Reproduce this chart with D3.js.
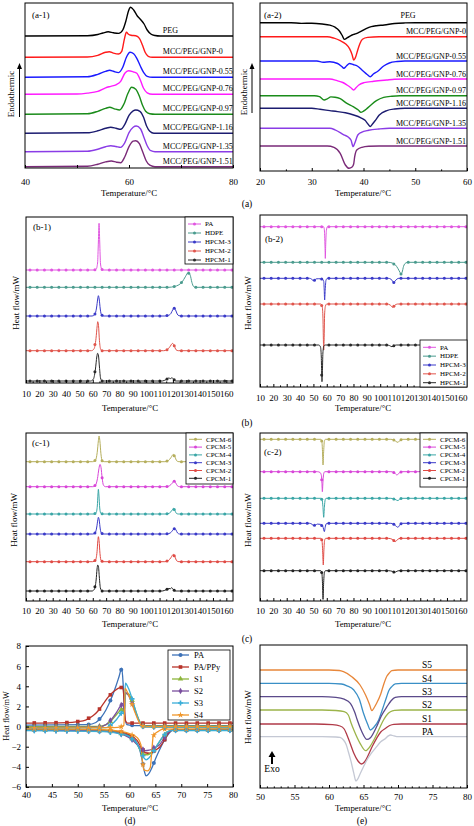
<!DOCTYPE html>
<html><head><meta charset="utf-8">
<script src="https://cdn.jsdelivr.net/npm/d3@7"></script>
<style>body{margin:0;background:#fff}svg{display:block}</style>
</head><body><svg id="c" width="474" height="826"></svg>
<script>
// ================= DATA =================
// (a-1) heating curves: [temperature, signal deviation]; shifts = vertical offsets (a.u.)
const a1Names = ["PEG","MCC/PEG/GNP-0","MCC/PEG/GNP-0.55","MCC/PEG/GNP-0.76","MCC/PEG/GNP-0.97","MCC/PEG/GNP-1.16","MCC/PEG/GNP-1.35","MCC/PEG/GNP-1.51"];
const a1Shifts = [132, 110.7, 90.7, 73.7, 53.7, 34.7, 16.3, 1.3];
const a1Curves = [
 [[40,0],[52,0.3],[54,1.5],[55,3],[56,4.2],[57,3.2],[58,2.6],[58.8,6],[59.4,15],[59.9,25],[60.3,28.7],[60.9,26],[61.6,20],[62.3,16],[62.9,12],[63.5,6],[64.2,2],[65,0.5],[66,0],[80,0]],
 [[40,0],[52,0.3],[54,2],[55.5,5],[56.2,5.6],[57,4.2],[58,3.3],[58.6,6],[59.1,18],[59.5,25],[59.9,23],[60.4,22],[61.3,21.5],[62,19],[62.6,12],[63.1,5],[63.7,1],[64.5,0],[80,0]],
 [[40,0],[52,0.5],[54,3],[55.5,6],[56.3,7],[57,6],[58,4.7],[58.8,10],[59.5,20],[60.2,25],[60.9,23.5],[61.5,19],[62.2,11],[62.8,5],[63.5,1],[64.5,0],[80,0]],
 [[40,0],[50,0.3],[52,1.2],[54,3],[55.5,6.5],[56.5,8],[57.5,9.5],[58.4,13],[59.2,21],[59.9,23.6],[60.8,22.5],[61.5,21],[62.2,14],[62.8,6],[63.5,1.5],[64.5,0],[80,0]],
 [[40,0],[52,0.5],[54,3],[55.5,6],[56.3,7],[57.2,5.5],[58.2,4.3],[59,10],[59.8,21],[60.5,27],[61.3,25],[62,18],[62.6,9],[63.2,3],[64,0.5],[65,0],[80,0]],
 [[40,0],[52,0.5],[54,2.5],[55.5,5],[56.5,6],[57.5,5],[58.4,4],[59.2,9],[60,18],[60.8,22.5],[61.3,23.3],[62.1,22],[62.8,16],[63.4,7],[64,2],[64.8,0],[80,0]],
 [[40,0],[52,0.5],[54,2.5],[55.5,5],[56.5,6],[57.5,5.2],[58.4,4.3],[59.2,9],[60,19],[60.8,24.5],[61.4,25.7],[62.2,23],[62.9,14],[63.5,6],[64.2,1],[65,0],[80,0]],
 [[40,0],[52,0.5],[54,2.5],[55.5,4.8],[56.6,5.7],[57.6,4.5],[58.4,4],[59.2,10],[60,20],[60.8,25.5],[61.3,26],[62,23],[62.7,14],[63.3,6],[64,1.5],[65,0],[80,0]]
];
// (a-2) cooling curves
const a2Shifts = [148.3, 134.3, 110, 92, 75.3, 62.7, 42.7, 25];
const a2Curves = [
 [[20,0],[26,0],[28,-0.7],[30,-0.5],[32,-1.3],[33.5,-2.5],[34.5,-4.5],[35.3,-8],[35.9,-13],[36.3,-16.7],[36.9,-15],[37.8,-12.3],[38.6,-11],[39.4,-9],[40.5,-6],[41.5,-4],[42.5,-3],[44,-2.3],[46,-0.8],[48,-0.2],[50,0],[60,0]],
 [[20,0],[33,0],[34.3,-1.5],[35.5,-4],[36.5,-7],[37.3,-12],[37.8,-18],[38.1,-23.3],[38.5,-20],[38.9,-13],[39.3,-7],[39.8,-2.5],[40.8,-0.7],[43,0],[60,0]],
 [[20,0],[31,0],[32.2,-1.3],[33.5,-0.8],[35,-2.5],[35.8,-5.5],[36.2,-7.3],[36.7,-5],[37.3,-2.5],[38,-3.5],[38.8,-5],[39.8,-9.5],[40.7,-13.5],[41.3,-15.7],[41.9,-13],[42.7,-10.5],[43.9,-5],[45,-2],[46.5,-0.5],[48,0],[60,0]],
 [[20,0],[33.5,0],[34.9,-1.7],[36,-3.5],[36.8,-6],[37.5,-8.5],[38.1,-11],[38.6,-8.5],[39.1,-6],[40.1,-3.7],[42,-2.3],[44.5,-1],[46,-0.3],[48,0],[60,0]],
 [[20,0],[30.5,0],[31.5,-1],[32.4,-4.3],[33,-3.2],[33.7,-1.2],[34.5,-1.5],[35.5,-3],[36.8,-7.7],[38,-11],[39,-14.3],[39.5,-16.7],[40,-15.5],[40.7,-12.7],[41.5,-9],[42.5,-5],[43.9,-1.7],[45.5,-0.5],[47,0],[60,0]],
 [[20,0],[30,0],[31.6,-1],[33.5,-2.3],[35,-3.3],[36.5,-4.5],[38.1,-6.7],[39.5,-9.5],[40.3,-12],[40.9,-16],[41.3,-18.3],[41.7,-16],[42.3,-12],[43,-7],[44.5,-2.3],[46,-0.7],[48,0],[60,0]],
 [[20,0],[33.5,0],[34.5,-1.5],[36.2,-6.5],[37.1,-9],[37.6,-12],[38,-18.3],[38.3,-15],[38.9,-6.7],[39.6,-4],[41,-2],[43,-0.7],[45,0],[60,0]],
 [[20,0],[33,0],[34.3,-1.3],[35.5,-7.3],[36.5,-19],[37.2,-22.3],[37.8,-21],[38.1,-18],[38.3,-10.7],[38.7,-4],[39.7,-1.3],[41,-0.3],[43,0],[60,0]]
];
// (b) HPCM series
const bNames = ["PA","HDPE","HPCM-3","HPCM-2","HPCM-1"];
const b1Shifts = [113, 95.7, 67, 32.3, 2];
const b1Curves = [
 [[10,0],[61,0],[62.5,0.8],[63.6,7],[64.2,28],[64.7,46.7],[65.2,28],[65.8,6],[66.8,0.5],[68,0],[165,0]],
 [[10,0],[117,0],[121,0.8],[124.5,2.5],[127,5.5],[129.3,10.5],[131.5,14.7],[133,12],[134.2,5],[135.5,0.8],[137,0],[165,0]],
 [[10,0],[59.5,0],[61.5,1.5],[62.8,8],[63.7,17],[64.2,20.3],[64.8,17],[65.6,7],[66.6,1],[68,0],[114,0],[116.5,0.6],[118.5,2.5],[120,6.5],[121,7.7],[122,6],[123.2,2],[124.5,0.3],[126,0],[165,0]],
 [[10,0],[59,0],[61,2],[62.4,12],[63.3,25],[63.7,29],[64.3,25],[65,10],[65.9,1.5],[67,0],[113,0],[115.5,0.8],[117.5,3.5],[119.8,7.3],[121,5],[122.3,1],[124,0],[165,0]],
 [[10,0],[58.5,0],[60.5,2],[62,12],[63,24],[63.6,27.7],[64.3,25],[65,14],[65.8,3],[67,0],[112,0],[115,1.5],[117,3],[118.2,2.4],[119.3,3.3],[120.7,1.5],[122,0],[165,0]]
];
const b2Shifts = [160.3, 124.7, 108.7, 83, 42];
const b2Curves = [
 [[10,0],[57.5,0],[58.1,-2],[58.5,-12],[58.8,-26],[58.9,-31.7],[59.2,-18],[59.7,-4],[60.5,0],[165,0]],
 [[10,0],[106,0],[109,-0.7],[111.3,-2.5],[113.2,-6],[114.8,-10],[115.6,-11.7],[116.4,-10],[117.5,-4],[119,-0.8],[121,0],[165,0]],
 [[10,0],[47,0],[48.7,-0.8],[49.7,-2.3],[50.8,-2],[52,-0.6],[54,-0.4],[56.5,-0.7],[57.7,-3],[58.1,-12],[58.4,-21.7],[58.8,-12],[59.4,-2],[60.5,0],[106,0],[108,-0.8],[109.3,-3],[110.1,-4.3],[111,-3],[112.5,-0.8],[114,0],[165,0]],
 [[10,0],[55.5,0],[56.5,-2],[57.1,-12],[57.5,-38],[57.7,-46],[58,-36],[58.4,-10],[59,-2],[60,0],[105,0],[107.5,-1],[109.3,-3.3],[111,-1.2],[113,0],[165,0]],
 [[10,0],[54,0],[55.3,-2],[55.9,-12],[56.2,-30],[56.4,-36.7],[56.7,-28],[57.1,-8],[57.8,-1],[59,0],[105,0],[107,-0.6],[108.8,-1.7],[110.5,-0.6],[112,0],[165,0]]
];
// (c) CPCM series
const cNames = ["CPCM-6","CPCM-5","CPCM-4","CPCM-3","CPCM-2","CPCM-1"];
const c1Shifts = [139.3, 114.3, 87, 67, 39.3, 10];
const c1Curves = [
 [[10,0],[60,0],[62,1.5],[63.3,9],[64.2,21],[64.7,25.7],[65.3,21],[66.1,8],[67,1],[68.5,0],[114,0],[116.5,1],[118.5,4],[120.3,7.3],[121.5,5],[122.8,1],[124.5,0],[165,0]],
 [[10,0],[60,0],[62,1.5],[63.5,8],[64.6,18],[65.4,22.3],[66.2,19],[67,9],[68,1.5],[69.5,0],[115,0],[117.5,1],[119.5,3.5],[120.8,5.7],[122,4],[123.3,1],[125,0],[165,0]],
 [[10,0],[61,0],[62.5,1.2],[63.4,8],[63.9,20],[64.2,24.7],[64.6,19],[65.2,6],[66,0.8],[67.5,0],[115,0],[117.5,1],[119.5,4],[120.3,5.7],[121.3,4],[122.5,0.8],[124,0],[165,0]],
 [[10,0],[60,0],[61.8,1.2],[63,7],[63.8,14.5],[64.2,16.7],[64.8,14],[65.6,5],[66.5,0.8],[68,0],[115,0],[118,1],[120,4],[121.3,5.7],[122.3,4],[123.5,1],[125,0],[165,0]],
 [[10,0],[60,0],[62,1.5],[63.2,10],[63.8,21],[64.2,25],[64.7,21],[65.4,8],[66.3,1],[67.5,0],[114,0],[116.5,1],[118.5,4],[120.3,7.3],[121.5,5],[122.8,1],[124.5,0],[165,0]],
 [[10,0],[59.5,0],[61.3,2],[62.5,11],[63.2,22],[63.7,26],[64.3,24],[64.9,14],[65.7,3],[67,0],[112,0],[115,1.3],[117,2.5],[118.2,2.3],[119.1,3.3],[120.3,1.5],[121.8,0],[165,0]]
];
const c2Shifts = [161.7, 129.3, 102.7, 77.7, 62.7, 30.3];
const c2Curves = [
 [[10,0],[55.5,0],[56.3,-2],[56.8,-12],[57.2,-25.7],[57.6,-14],[58.2,-2],[59,0],[108,0],[110.5,-0.8],[112.5,-2.7],[113.3,-3],[114.5,-1.5],[116,0],[165,0]],
 [[10,0],[53,0],[55,-0.8],[56,-4],[56.4,-12],[56.7,-20],[57.1,-11],[57.7,-2],[58.5,0],[108,0],[110.5,-1],[112.6,-3.3],[114,-1.5],[116,0],[165,0]],
 [[10,0],[55.5,0],[56.5,-1.5],[57.1,-8],[57.7,-19],[58.2,-9],[58.8,-1.5],[59.5,0],[108,0],[111,-1],[113.3,-2.3],[114.5,-1],[116,0],[165,0]],
 [[10,0],[47,0],[49,-1],[50.2,-2.3],[51.5,-1.8],[53,-0.8],[55,-1],[57,-3],[58.2,-8.3],[58.8,-4],[59.6,-0.5],[61,0],[108,0],[110.5,-1.2],[112.3,-3.3],[113.3,-4],[114.5,-2],[116,0],[165,0]],
 [[10,0],[55.5,0],[56.4,-2],[56.9,-12],[57.4,-26.7],[57.8,-13],[58.4,-2],[59.2,0],[106,0],[109,-1],[111.3,-3.3],[113,-1.2],[115,0],[165,0]],
 [[10,0],[55.5,0],[56.3,-2],[56.8,-13],[57.2,-28.7],[57.6,-14],[58.2,-2],[59,0],[106,0],[109,-0.6],[110.8,-1.7],[112.5,-0.6],[114,0],[165,0]]
];
// (d) heat flow (mW): cooling (exo, up) and heating (endo, down) branches
const dNames = ["PA","PA/PPy","S1","S2","S3","S4"];
const dCool = [
 [[40,0.15],[52,0.2],[53.5,0.4],[54.5,0.9],[55.5,1.7],[56.5,2.8],[57.3,3.9],[58,5],[58.5,5.8],[58.8,4],[59.1,1],[59.5,0.2],[61,0.1],[80,0.1]],
 [[40,0.35],[48,0.4],[50,0.5],[51.5,0.65],[53,1.1],[54,1.6],[55,2.3],[56,3],[57,3.5],[58,3.85],[58.7,3.9],[59,2.2],[59.2,0.6],[59.6,0.35],[80,0.35]],
 [[40,0],[54,0.02],[55.5,0.2],[56.5,0.6],[57.5,1.2],[58.2,1.6],[58.7,1.8],[59,1.3],[59.2,3.2],[59.7,3.3],[60.5,2.6],[61.3,1.4],[62,0.5],[62.6,0.1],[64,0.05],[80,0.05]],
 [[40,-0.1],[54,-0.05],[55.5,0.2],[56.5,0.7],[57.5,1.4],[58.2,2],[58.7,2.3],[59,1.5],[59.2,3.4],[59.8,3.1],[60.6,2.2],[61.4,1.1],[62.1,0.3],[62.7,0],[80,-0.05]],
 [[40,-0.15],[55.5,-0.1],[56.5,0.2],[57.5,0.7],[58.2,1.2],[58.7,1.5],[59,1.2],[59.2,4.3],[59.8,3.8],[60.6,2.6],[61.4,1.2],[62.1,0.3],[62.7,-0.05],[80,-0.1]],
 [[40,-0.15],[57,-0.1],[58.5,0],[58.9,0.1],[59.05,2],[59.15,3.8],[59.6,3.4],[60.3,2.5],[61,1.5],[61.7,0.6],[62.3,0.1],[63,0],[80,0]]
];
const dHeat = [
 [[40,-0.25],[50,-0.3],[55,-0.4],[57,-0.5],[58.5,-0.65],[60,-0.9],[61,-1.3],[61.8,-2],[62.4,-3.2],[62.9,-4.5],[63.2,-4.9],[63.7,-4.7],[64.4,-4],[65.2,-3],[66,-2.1],[66.8,-1.3],[67.6,-0.7],[68.3,-0.35],[69,-0.3],[80,-0.3]],
 [[40,-0.3],[55,-0.4],[58,-0.5],[60,-0.8],[61.5,-1.4],[62.3,-2.1],[63,-2.6],[64,-2.65],[65,-2.35],[65.9,-2],[66.8,-1.3],[67.6,-0.6],[68.5,-0.35],[80,-0.35]],
 [[40,-0.3],[55,-0.4],[57,-0.5],[59,-0.8],[60.5,-1.2],[61.5,-1.8],[62.2,-2.5],[62.8,-2.8],[63.5,-2.8],[64.4,-2.5],[65.3,-1.9],[66.2,-1.2],[67.2,-0.6],[68.3,-0.3],[80,-0.3]],
 [[40,-0.35],[55,-0.45],[57,-0.55],[59,-0.85],[60.5,-1.3],[61.5,-1.8],[62.3,-2.2],[63,-2.4],[63.8,-2.35],[64.8,-2.1],[65.8,-1.8],[66.5,-1.3],[67.3,-0.7],[68.3,-0.35],[80,-0.35]],
 [[40,-0.4],[55,-0.5],[58,-0.7],[60,-1],[61.3,-1.6],[62.2,-2.5],[62.8,-3.1],[63.2,-3.3],[63.8,-3.1],[64.6,-2.5],[65.4,-1.8],[66.3,-1.1],[67.3,-0.5],[68.3,-0.4],[80,-0.4]],
 [[40,-0.2],[55,-0.3],[58,-0.45],[60,-0.7],[61.5,-1.1],[62.2,-1.8],[62.5,-3.5],[62.8,-4.3],[63.5,-4.4],[64,-4.1],[64.3,-2.5],[64.6,-0.9],[65.5,-0.5],[66.5,-0.25],[80,-0.2]]
];
const dYTicks = [8,6,4,2,0,-2,-4,-6];
const dXTicks = [40,45,50,55,60,65,70,75,80];
// (e) cooling curves
const eNames = ["S5","S4","S3","S2","S1","PA"];
const eShifts = [118, 104.7, 91.3, 78, 64, 51.3];
const eCurves = [
 [[50,0],[60,0],[61.5,-0.5],[62.1,-1.7],[63.3,-6.7],[64.5,-15],[65.3,-25],[65.9,-35],[66.2,-40.7],[66.6,-37],[66.9,-33.3],[67.5,-24],[67.9,-15],[68.4,-6],[68.7,-3.3],[69.1,-0.7],[70,0],[80,0]],
 [[50,0],[60,0],[61.8,-0.7],[62.6,-2.5],[63.6,-6.7],[64.4,-16],[65,-30],[65.6,-41],[66,-46.7],[66.5,-44],[67.2,-36.7],[67.7,-27],[68.2,-16.7],[68.7,-7],[69.1,-3.3],[69.6,-0.5],[70.5,0],[80,0]],
 [[50,0],[59,0],[61,-0.7],[62.2,-2.5],[63.1,-6.7],[63.7,-15],[64.1,-23.3],[64.7,-34],[65.5,-42.7],[66,-41],[66.9,-30],[67.6,-19],[68.4,-10],[69,-4],[69.6,-0.7],[70.5,0],[80,0]],
 [[50,0],[59,0],[61,-0.5],[62.2,-1.7],[62.8,-5],[63.2,-13],[63.6,-20],[64.5,-33.3],[65.3,-40.7],[65.9,-37],[66.5,-30],[67.2,-20],[67.9,-10],[68.5,-4],[68.9,-1.7],[69.5,-0.3],[70.5,0],[80,0]],
 [[50,0],[58,0],[60.5,-0.7],[61.6,-2],[62.2,-5],[62.6,-11],[63.1,-20],[63.6,-29.3],[64.2,-37],[64.7,-40],[65.2,-37.5],[65.7,-31],[66.3,-22],[66.9,-14.3],[67.5,-8],[68.2,-4.3],[68.8,-1.5],[69.4,-0.3],[70.5,0],[80,0]],
 [[50,0],[59,0],[61,-0.3],[61.6,-0.7],[62.1,-3.3],[62.5,-8],[62.8,-15],[63.2,-25],[63.6,-36.7],[63.9,-44.3],[64.2,-42],[64.5,-37.3],[65,-30],[65.5,-23.3],[66.2,-16],[66.9,-10],[67.5,-5],[68.2,-1.7],[68.6,0.8],[68.9,1.7],[69.4,0.8],[70,0],[80,0]]
];

// ================= STYLE =================
const FONT = "'Liberation Serif','Times New Roman',serif";
const aColors = ["#000000","#ff1a1a","#1a1aff","#ff1aff","#1a8c1a","#1c1c70","#8a3ce6","#7a2a78"];
const bColors = ["#e055e0","#4a9b8e","#3a3ac8","#e0554c","#2a2a2a"];
const cColors = ["#b5ae5c","#d845d8","#3aa6a6","#3a3ac8","#e04a44","#222222"];
const dColors = ["#3d72b8","#b8332a","#8db53c","#7a4f9e","#3aaed8","#f0962a"];
const dSymbols = [d3.symbolCircle, d3.symbolSquare, d3.symbolTriangle, d3.symbolDiamond, d3.symbolCross, d3.symbolStar];
const eColors = ["#e8873a","#3a8fc6","#5b4a8b","#9cb44a","#b03a48","#c4c8d4"];

const svg = d3.select("#c");
svg.append("rect").attr("width",474).attr("height",826).attr("fill","#fff");
let clipN = 0;

function panel(o){
  const x = d3.scaleLinear().domain(o.xd).range([o.l, o.r]);
  const y = d3.scaleLinear().domain(o.yd).range([o.b, o.t]);
  const g = svg.append("g");
  const id = "clp" + (clipN++);
  g.append("clipPath").attr("id", id).append("rect")
    .attr("x", o.l).attr("y", o.t).attr("width", o.r - o.l).attr("height", o.b - o.t);
  const plot = g.append("g").attr("clip-path", `url(#${id})`);
  return {x, y, g, plot, o};
}
function frame(P){
  const o = P.o;
  P.g.append("rect").attr("x", o.l).attr("y", o.t).attr("width", o.r - o.l).attr("height", o.b - o.t)
    .attr("fill","none").attr("stroke","#000").attr("stroke-width",1);
}
function xAxis(P, ticks, fmt, minor, pad){
  const ax = d3.axisBottom(P.x).tickValues(ticks).tickSizeInner(-3).tickSizeOuter(0).tickPadding(pad).tickFormat(fmt);
  const ag = P.g.append("g").attr("transform", `translate(0,${P.o.b})`).call(ax);
  ag.attr("font-family", FONT).attr("font-size", 9);
  ag.select(".domain").remove();
  ag.selectAll("line").attr("stroke","#000");
  ag.selectAll("text").attr("fill","#000");
  if (minor){
    const am = d3.axisBottom(P.x).tickValues(minor).tickSizeInner(-1.6).tickSizeOuter(0).tickFormat(() => "");
    const mg = P.g.append("g").attr("transform", `translate(0,${P.o.b})`).call(am);
    mg.select(".domain").remove();
    mg.selectAll("line").attr("stroke","#000");
  }
}
function text(x, y, s, size, anchor, rot){
  const t = svg.append("text").attr("x", x).attr("y", y).text(s)
    .attr("font-family", FONT).attr("font-size", size).attr("fill","#000")
    .attr("text-anchor", anchor || "start");
  if (rot) t.attr("transform", `rotate(${rot},${x},${y})`);
  return t;
}
function valueAt(pts, t){
  const i = d3.bisector(d => d[0]).right(pts, t);
  if (i <= 0) return pts[0][1];
  if (i >= pts.length) return pts[pts.length-1][1];
  const a = pts[i-1], b = pts[i];
  return a[1] + (b[1]-a[1]) * (t - a[0]) / (b[0] - a[0]);
}
function drawStack(P, curves, shifts, colors, w){
  const line = d3.line().x(d => P.x(d[0])).y(d => P.y(d[1])).curve(d3.curveMonotoneX);
  curves.forEach((c, i) => {
    const pts = c.map(d => [d[0], d[1] + shifts[i]]);
    P.plot.append("path").attr("d", line(pts)).attr("fill","none")
      .attr("stroke", colors[i]).attr("stroke-width", w).attr("stroke-linejoin","round");
  });
}
function drawMarkers(P, curves, shifts, colors, grid, r){
  curves.forEach((c, i) => {
    P.plot.selectAll(null).data(grid).enter().append("circle")
      .attr("cx", t => P.x(t)).attr("cy", t => P.y(valueAt(c, t) + shifts[i]))
      .attr("r", r).attr("fill", colors[i]);
  });
}
function legendBox(x0, y0, w, h, names, colors, y1, dy, fs){
  svg.append("rect").attr("x", x0).attr("y", y0).attr("width", w).attr("height", h)
    .attr("fill","#fff").attr("stroke","#000").attr("stroke-width",0.8);
  names.forEach((n, i) => {
    const yy = y1 + i * dy;
    svg.append("line").attr("x1", x0 + 3).attr("x2", x0 + 16).attr("y1", yy).attr("y2", yy)
      .attr("stroke", colors[i]).attr("stroke-width", 1);
    svg.append("circle").attr("cx", x0 + 9.5).attr("cy", yy).attr("r", 1.5).attr("fill", colors[i]);
    text(x0 + 20, yy + fs * 0.33, n, fs, "start");
  });
}
function upArrow(x, yb, yt){
  svg.append("line").attr("x1", x).attr("x2", x).attr("y1", yb).attr("y2", yt + 5).attr("stroke","#000").attr("stroke-width",1);
  svg.append("path").attr("d", `M${x-2.5},${yt+6}L${x},${yt}L${x+2.5},${yt+6}Z`).attr("fill","#000");
}

// ================= (a-1) =================
{
  const P = panel({xd:[40,80], yd:[0,165], l:25, r:233, t:3, b:168});
  drawStack(P, a1Curves, a1Shifts, aColors, 1.4);
  frame(P);
  xAxis(P, [40,50,60,70,80], d => d % 20 === 0 ? d : "", null, 10.3);
  a1Names.forEach((n, i) => text(P.x(66.5), P.y(a1Shifts[i]) - 3, n, 8, "start"));
  text(32, 18, "(a-1)", 9, "start");
  text(129, 196, "Temperature/°C", 8.8, "middle");
  text(14, 94, "Endothermic", 9, "middle", -90);
  upArrow(19.5, 117, 63);
}
// ================= (a-2) =================
{
  const P = panel({xd:[20,60], yd:[0,168], l:260, r:467, t:3, b:171});
  drawStack(P, a2Curves, a2Shifts, aColors, 1.4);
  frame(P);
  xAxis(P, [20,30,40,50,60], d => d, [25,35,45,55], 7.3);
  a1Names.forEach((n, i) => {
    if (i === 0) text(P.x(48.6), P.y(a2Shifts[i]) - 4.5, n, 8, "middle");
    else text(466, P.y(a2Shifts[i]) - 2.5, n, 8, "end");
  });
  text(264, 18, "(a-2)", 9, "start");
  text(363, 196, "Temperature/°C", 8.8, "middle");
  text(247, 92, "Endothermic", 9, "middle", -90);
  upArrow(252, 113, 63);
}
text(247, 207, "(a)", 9.5, "middle");

// ================= (b-1) / (b-2) =================
const bcTicks = d3.range(10, 161, 10);
const bcMinor = d3.range(15, 165, 10);
const bcGrid = d3.range(13, 165, 5.4);
{
  const P = panel({xd:[10,165], yd:[0,166], l:26, r:233, t:217, b:383});
  drawStack(P, b1Curves, b1Shifts, bColors, 1);
  drawMarkers(P, b1Curves, b1Shifts, bColors, bcGrid, 1.5);
  frame(P);
  xAxis(P, bcTicks, d => d, bcMinor, 8);
  text(33, 230, "(b-1)", 9, "start");
  text(130, 411, "Temperature/°C", 8.8, "middle");
  text(19, 303, "Heat flow/mW", 9, "middle", -90);
  legendBox(185, 217, 48, 47, bNames, bColors, 224, 9, 7);
}
{
  const P = panel({xd:[10,165], yd:[0,172], l:260, r:467, t:215, b:387});
  drawStack(P, b2Curves, b2Shifts, bColors, 1);
  drawMarkers(P, b2Curves, b2Shifts, bColors, bcGrid, 1.5);
  frame(P);
  xAxis(P, bcTicks, d => d, bcMinor, 8);
  text(265, 242, "(b-2)", 9, "start");
  text(363, 411, "Temperature/°C", 8.8, "middle");
  text(251, 303, "Heat flow/mW", 9, "middle", -90);
  legendBox(420, 340, 47, 47, bNames, bColors, 347.3, 8.85, 7);
}
text(247, 426, "(b)", 9.5, "middle");

// ================= (c-1) / (c-2) =================
{
  const P = panel({xd:[10,165], yd:[0,168], l:26, r:233, t:433, b:601});
  drawStack(P, c1Curves, c1Shifts, cColors, 1);
  drawMarkers(P, c1Curves, c1Shifts, cColors, bcGrid, 1.5);
  frame(P);
  xAxis(P, bcTicks, d => d, bcMinor, 6.6);
  text(32, 446, "(c-1)", 9, "start");
  text(130, 627, "Temperature/°C", 8.8, "middle");
  text(17, 520, "Heat flow/mW", 9, "middle", -90);
  legendBox(186, 433, 47, 51, cNames, cColors, 439.3, 7.8, 7);
}
{
  const P = panel({xd:[10,165], yd:[0,168], l:260, r:467, t:433, b:601});
  drawStack(P, c2Curves, c2Shifts, cColors, 1);
  drawMarkers(P, c2Curves, c2Shifts, cColors, bcGrid, 1.5);
  frame(P);
  xAxis(P, bcTicks, d => d, bcMinor, 6.6);
  text(264, 455, "(c-2)", 9, "start");
  text(363, 627, "Temperature/°C", 8.8, "middle");
  text(251, 520, "Heat flow/mW", 9, "middle", -90);
  legendBox(420, 433, 47, 54, cNames, cColors, 439.3, 7.8, 7);
}
text(247, 642, "(c)", 9.5, "middle");

// ================= (d) =================
{
  const P = panel({xd:[40,80], yd:[-6,8], l:26, r:233, t:646, b:787});
  const line = d3.line().x(d => P.x(d[0])).y(d => P.y(d[1])).curve(d3.curveMonotoneX);
  const grid = d3.range(41.6, 80, 2.1);
  [dHeat, dCool].forEach(branch => {
    branch.forEach((c, i) => {
      P.plot.append("path").attr("d", line(c)).attr("fill","none").attr("stroke", dColors[i]).attr("stroke-width", 1.3);
    });
  });
  [dHeat, dCool].forEach(branch => {
    branch.forEach((c, i) => {
      const sym = d3.symbol().type(dSymbols[i]).size(13);
      P.plot.selectAll(null).data(grid).enter().append("path").attr("d", sym)
        .attr("transform", t => `translate(${P.x(t)},${P.y(valueAt(c, t))})`)
        .attr("fill", dColors[i]);
    });
  });
  frame(P);
  xAxis(P, dXTicks, d => d, null, 4.6);
  const ay = d3.axisLeft(P.y).tickValues(dYTicks).tickSizeInner(-3).tickSizeOuter(0).tickPadding(5);
  const ag = P.g.append("g").attr("transform", `translate(${P.o.l},0)`).call(ay);
  ag.attr("font-family", FONT).attr("font-size", 9);
  ag.select(".domain").remove();
  ag.selectAll("line").attr("stroke","#000");
  ag.selectAll("text").attr("fill","#000");
  text(130, 811, "Temperature/°C", 8.8, "middle");
  text(9, 716, "Heat flow/mW", 8.3, "middle", -90);
  // legend
  svg.append("rect").attr("x",168).attr("y",650).attr("width",62).attr("height",70)
    .attr("fill","#fff").attr("stroke","#000").attr("stroke-width",0.8);
  dNames.forEach((n, i) => {
    const yy = 655 + i * 12;
    svg.append("line").attr("x1",172).attr("x2",189).attr("y1",yy).attr("y2",yy).attr("stroke", dColors[i]).attr("stroke-width",1.3);
    svg.append("path").attr("d", d3.symbol().type(dSymbols[i]).size(13)).attr("transform", `translate(180.5,${yy})`).attr("fill", dColors[i]);
    text(194, yy + 3, n, 8.5, "start");
  });
  text(130, 824, "(d)", 9.5, "middle");
}

// ================= (e) =================
{
  const P = panel({xd:[50,80], yd:[0,143], l:260, r:467, t:645, b:788});
  drawStack(P, eCurves, eShifts, eColors, 1.3);
  frame(P);
  xAxis(P, [50,55,60,65,70,75,80], d => d, d3.range(51, 80, 1).filter(v => v % 5 !== 0), 5.6);
  eNames.forEach((n, i) => text(422, P.y(eShifts[i]) - 1.8, n, 9.5, "start"));
  text(363, 811, "Temperature/°C", 8.8, "middle");
  text(251, 717, "Heat flow/mW", 9, "middle", -90);
  svg.append("line").attr("x1",272).attr("x2",272).attr("y1",764).attr("y2",756).attr("stroke","#000").attr("stroke-width",2);
  svg.append("path").attr("d","M268.5,757L272,751L275.5,757Z").attr("fill","#000");
  text(272, 772, "Exo", 9.5, "middle");
  text(362, 824, "(e)", 9.5, "middle");
}
</script></body></html>
